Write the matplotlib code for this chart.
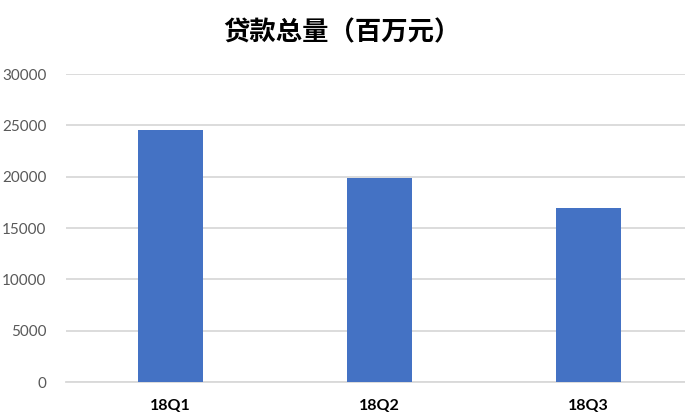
import matplotlib
matplotlib.use("Agg")
import matplotlib.pyplot as plt

plt.rcParams['font.family'] = ['Lato', 'Noto Sans CJK SC', 'DejaVu Sans']

quarters = ['18Q1', '18Q2', '18Q3']
loans = [24580, 19900, 16950]
yticks = [0, 5000, 10000, 15000, 20000, 25000, 30000]

fig = plt.figure(figsize=(6.85, 4.2), dpi=100)
# 图表右侧超出画布，与原图一致
ax = fig.add_axes([66 / 685, 38 / 420, 627 / 685, 308 / 420])

ax.bar(range(len(quarters)), loans, width=0.315, color='#4472C4', zorder=3)

ax.set_xlim(-0.5, 2.5)
ax.set_ylim(0, 30000)
ax.set_yticks(yticks)
ax.set_yticklabels([str(v) for v in yticks], color='#595959', fontsize=11)
ax.set_xticks(range(len(quarters)))
ax.set_xticklabels(quarters, fontsize=11.5, fontweight='bold', color='black')

ax.grid(axis='y', color='#D9D9D9', linewidth=1.3, zorder=0)
for s in ['top', 'right', 'left']:
    ax.spines[s].set_visible(False)
ax.spines['bottom'].set_color('#D9D9D9')
ax.spines['bottom'].set_linewidth(1.3)
ax.tick_params(axis='both', length=0)
ax.tick_params(axis='y', pad=14)
ax.tick_params(axis='x', pad=12)

fig.text(342 / 685, 1 - 33 / 420, '贷款总量（百万元）', ha='center', va='center',
         fontsize=19, fontweight='bold', family=['Noto Sans CJK SC', 'DejaVu Sans'])

fig.savefig('out.png', dpi=100)
